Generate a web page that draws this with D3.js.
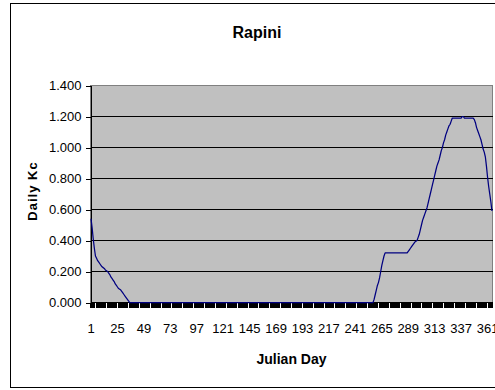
<!DOCTYPE html>
<html>
<head>
<meta charset="utf-8">
<script src="https://cdn.jsdelivr.net/npm/d3@7"></script>
<style>
  html, body { margin: 0; padding: 0; background: #fff; }
  svg { display: block; }
  text { font-family: "Liberation Sans", Arial, sans-serif; fill: #000; }
</style>
</head>
<body>
<svg id="chart" width="495" height="390"></svg>
<script>
// Daily crop coefficient for rapini, one value per Julian day (1..365)
const chartTitle = "Rapini";
const xTitle = "Julian Day";
const yTitle = "Daily Kc";

const kc = [
  // days 1-36: end of winter crop
  0.54, 0.48, 0.41, 0.35, 0.30, 0.285, 0.27, 0.26, 0.25, 0.24,
  0.23, 0.225, 0.22, 0.21, 0.205, 0.20, 0.19, 0.18, 0.165, 0.155,
  0.145, 0.135, 0.12, 0.11, 0.10, 0.09, 0.085, 0.08, 0.07, 0.06,
  0.05, 0.04, 0.03, 0.02, 0.01, 0.00,
  // days 37-256: fallow
  0,0,0,0,0,0,0,0,0,0,0,0,0,0,0,0,0,0,0,0,
  0,0,0,0,0,0,0,0,0,0,0,0,0,0,0,0,0,0,0,0,
  0,0,0,0,0,0,0,0,0,0,0,0,0,0,0,0,0,0,0,0,
  0,0,0,0,0,0,0,0,0,0,0,0,0,0,0,0,0,0,0,0,
  0,0,0,0,0,0,0,0,0,0,0,0,0,0,0,0,0,0,0,0,
  0,0,0,0,0,0,0,0,0,0,0,0,0,0,0,0,0,0,0,0,
  0,0,0,0,0,0,0,0,0,0,0,0,0,0,0,0,0,0,0,0,
  0,0,0,0,0,0,0,0,0,0,0,0,0,0,0,0,0,0,0,0,
  0,0,0,0,0,0,0,0,0,0,0,0,0,0,0,0,0,0,0,0,
  0,0,0,0,0,0,0,0,0,0,0,0,0,0,0,0,0,0,0,0,
  0,0,0,0,0,0,0,0,0,0,0,0,0,0,0,0,0,0,0,0,
  // days 257-297: planting and initial stage
  0.00, 0.02, 0.05, 0.08, 0.11, 0.13, 0.16, 0.20, 0.24, 0.27, 0.30, 0.32,
  0.32, 0.32, 0.32, 0.32, 0.32, 0.32, 0.32, 0.32, 0.32, 0.32,
  0.32, 0.32, 0.32, 0.32, 0.32, 0.32, 0.32, 0.32, 0.32, 0.32,
  0.33, 0.34, 0.35, 0.36, 0.37, 0.38, 0.39, 0.395, 0.40,
  // days 298-329: development
  0.42, 0.44, 0.47, 0.50, 0.53, 0.55, 0.57, 0.59, 0.61, 0.64,
  0.67, 0.70, 0.73, 0.76, 0.79, 0.82, 0.85, 0.88, 0.90, 0.92,
  0.95, 0.98, 1.00, 1.03, 1.05, 1.08, 1.10, 1.12, 1.14, 1.15,
  1.17, 1.19,
  // days 330-348: mid season
  1.19, 1.19, 1.19, 1.19, 1.19, 1.19, 1.19, 1.19, 1.20, 1.20,
  1.19, 1.19, 1.19, 1.19, 1.19, 1.19, 1.19, 1.19, 1.19,
  // days 349-365: late season
  1.18, 1.16, 1.13, 1.11, 1.09, 1.07, 1.05, 1.02, 0.99, 0.97,
  0.94, 0.88, 0.81, 0.75, 0.70, 0.65, 0.59
];

const days = kc.map((_, i) => i + 1);
const xTickLabels = [1, 25, 49, 73, 97, 121, 145, 169, 193, 217, 241, 265, 289, 313, 337, 361];
const yTicks = [0, 0.2, 0.4, 0.6, 0.8, 1.0, 1.2, 1.4];

const svg = d3.select("#chart");

// plot geometry
const plotLeft = 90.5, plotRight = 492.5, plotTop = 85.5, plotBottom = 302.5;

const x = d3.scaleBand().domain(days).range([plotLeft, plotRight]).padding(0);
const y = d3.scaleLinear().domain([0, 1.4]).range([plotBottom, plotTop]);
const fmt = d3.format(".3f");

// outer chart frame
svg.append("rect")
  .attr("x", 10.5).attr("y", 3.5)
  .attr("width", 500).attr("height", 384)
  .attr("fill", "#fff").attr("stroke", "#000").attr("stroke-width", 1);

// plot area background
svg.append("rect")
  .attr("x", plotLeft).attr("y", plotTop)
  .attr("width", plotRight - plotLeft).attr("height", plotBottom - plotTop)
  .attr("fill", "#c0c0c0")
  .attr("stroke", "#808080").attr("stroke-width", 1);

// horizontal gridlines
svg.append("g")
  .selectAll("line")
  .data(yTicks.filter(v => v > 0 && v < 1.4))
  .join("line")
  .attr("x1", plotLeft).attr("x2", plotRight)
  .attr("y1", d => y(d)).attr("y2", d => y(d))
  .attr("stroke", "#000").attr("stroke-width", 1)
  .attr("shape-rendering", "crispEdges");

// y axis
const yAxis = d3.axisLeft(y)
  .tickValues(yTicks)
  .tickFormat(fmt)
  .tickSize(5)
  .tickSizeOuter(0)
  .tickPadding(4);

const gy = svg.append("g")
  .attr("transform", `translate(${plotLeft},0)`)
  .call(yAxis);
gy.select(".domain").attr("stroke", "#000").attr("shape-rendering", "crispEdges");
gy.selectAll(".tick line").attr("stroke", "#000").attr("shape-rendering", "crispEdges");
gy.selectAll(".tick text")
  .attr("font-size", 13)
  .attr("font-family", "'Liberation Sans', Arial, sans-serif")
  .attr("fill", "#000");

// x axis: a tick between every pair of days, labels every 24 days
const xBoundaries = days.map(d => x(d)).concat([x(days[days.length - 1]) + x.bandwidth()]);
svg.append("g")
  .selectAll("line")
  .data(xBoundaries)
  .join("line")
  .attr("x1", d => Math.round(d - 0.5) + 0.5)
  .attr("x2", d => Math.round(d - 0.5) + 0.5)
  .attr("y1", plotBottom).attr("y2", plotBottom + 5)
  .attr("stroke", "#000").attr("stroke-width", 1)
  .attr("shape-rendering", "crispEdges");

svg.append("line")
  .attr("x1", plotLeft).attr("x2", plotRight)
  .attr("y1", plotBottom).attr("y2", plotBottom)
  .attr("stroke", "#000").attr("shape-rendering", "crispEdges");

svg.append("g")
  .selectAll("text")
  .data(xTickLabels)
  .join("text")
  .attr("x", d => x(d) + x.bandwidth() / 2)
  .attr("y", plotBottom + 30.5)
  .attr("text-anchor", "middle")
  .attr("font-size", 13)
  .text(d => d);

// Kc line
const line = d3.line()
  .x((d, i) => x(days[i]) + x.bandwidth() / 2)
  .y(d => y(d));

svg.append("path")
  .datum(kc)
  .attr("d", line)
  .attr("fill", "none")
  .attr("stroke", "#000080")
  .attr("stroke-width", 1.25)
  .attr("stroke-linejoin", "round");

// titles
svg.append("text")
  .attr("x", 257).attr("y", 38)
  .attr("text-anchor", "middle")
  .attr("font-size", 16).attr("font-weight", "bold")
  .text(chartTitle);

svg.append("text")
  .attr("x", (plotLeft + plotRight) / 2).attr("y", 363.5)
  .attr("text-anchor", "middle")
  .attr("font-size", 14).attr("font-weight", "bold")
  .text(xTitle);

svg.append("text")
  .attr("transform", `translate(36.5,${(plotTop + plotBottom) / 2 - 3}) rotate(-90)`)
  .attr("text-anchor", "middle")
  .attr("font-size", 13).attr("font-weight", "bold")
  .attr("letter-spacing", 1)
  .text(yTitle);
</script>
</body>
</html>
